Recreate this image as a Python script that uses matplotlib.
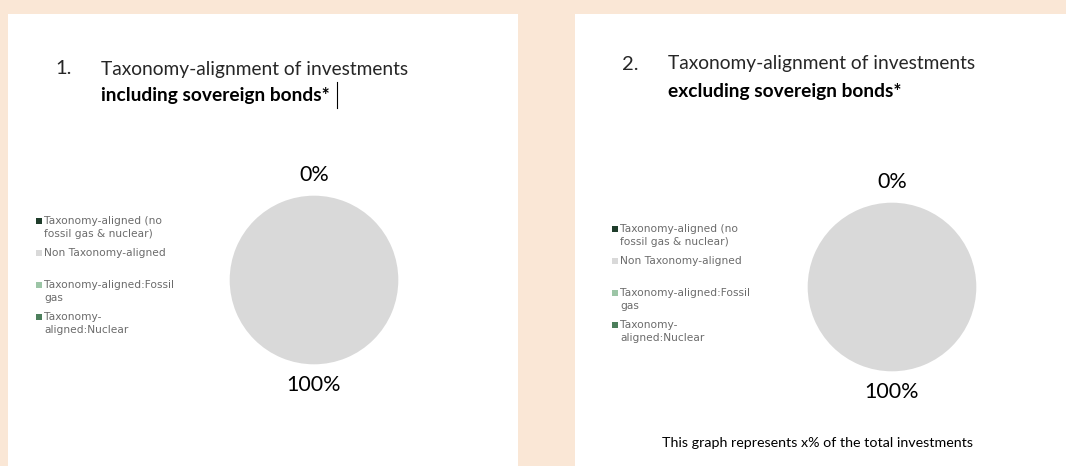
import matplotlib.pyplot as plt
import matplotlib.patches as mpatches
from matplotlib.lines import Line2D
import numpy as np

# Data
categories = ['Taxonomy-aligned (no\nfossil gas & nuclear)', 'Non Taxonomy-aligned',
              'Taxonomy-aligned:Fossil\ngas', 'Taxonomy-\naligned:Nuclear']
incl_values = [0, 100, 0, 0]
excl_values = [0, 100, 0, 0]
colors = ['#1f3d2b', '#d9d9d9', '#9cc5a6', '#4d7f5c']

titles_num = ['1.', '2.']
titles_l1 = ['Taxonomy-alignment of investments', 'Taxonomy-alignment of investments']
titles_l2 = ['including sovereign bonds*', 'excluding sovereign bonds*']
footnote = 'This graph represents x% of the total investments'

W, H = 1066, 466
fig = plt.figure(figsize=(W / 100, H / 100), dpi=100)
fig.patch.set_facecolor('#fae7d6')

def fx(x):
    return x / W

def fy(y):
    return 1 - y / H

# white panels
fig.add_artist(mpatches.Rectangle((fx(8), 0), fx(510), fy(14), transform=fig.transFigure,
                                  facecolor='white', edgecolor='none', zorder=0))
fig.add_artist(mpatches.Rectangle((fx(575), 0), fx(491), fy(14), transform=fig.transFigure,
                                  facecolor='white', edgecolor='none', zorder=0))

title_font = ['Lato', 'DejaVu Sans']
legend_font = ['DejaVu Sans']

panels = [
    dict(values=incl_values, cx=314, cy=280, r=86, num_x=55, tx=101, ty1=69, ty2=96,
         leg_x=39, leg_y=221),
    dict(values=excl_values, cx=892, cy=287, r=86, num_x=622, tx=668, ty1=64, ty2=91,
         leg_x=615, leg_y=229),
]

for i, p in enumerate(panels):
    # titles
    fig.text(fx(p['num_x']), fy(p['ty1']), titles_num[i], fontsize=14.5, family=title_font,
             color='#262626', va='center', ha='left')
    fig.text(fx(p['tx']), fy(p['ty1']), titles_l1[i], fontsize=13.8, family=title_font,
             color='#262626', va='center', ha='left')
    fig.text(fx(p['tx']), fy(p['ty2']), titles_l2[i], fontsize=13.8, family=title_font,
             color='black', fontweight='bold', va='center', ha='left')

    # pie
    r = p['r']
    ax = fig.add_axes([fx(p['cx'] - r), fy(p['cy'] + r), fx(2 * r), (2 * r) / H])
    wedges, _ = ax.pie(p['values'], colors=colors, startangle=90, counterclock=False,
                       radius=1, wedgeprops=dict(linewidth=0))
    ax.set_xlim(-1.02, 1.02)
    ax.set_ylim(-1.02, 1.02)
    ax.set_aspect('equal')
    ax.axis('off')

    total = sum(p['values'])
    seen = set()
    for w, v in zip(wedges, p['values']):
        ang = np.deg2rad((w.theta1 + w.theta2) / 2)
        lx, ly = 1.25 * np.cos(ang), 1.25 * np.sin(ang)
        key = (round(lx, 2), round(ly, 2))
        if key in seen:
            continue
        seen.add(key)
        ax.text(lx, ly, f'{v / total * 100:.0f}%', ha='center', va='center', fontsize=15.5,
                family=title_font, color='black', clip_on=False)

    # legend
    for j, (lab, c) in enumerate(zip(categories, colors)):
        y = p['leg_y'] + j * 32
        fig.add_artist(mpatches.Rectangle((fx(p['leg_x'] - 3), fy(y + 3)), fx(6), 6 / H,
                                          transform=fig.transFigure, facecolor=c,
                                          edgecolor='none'))
        fig.text(fx(p['leg_x'] + 5), fy(y - 4.5), lab, fontsize=7.7, family=legend_font,
                 color='#6b6b6b', va='top', ha='left', linespacing=1.3)

# text cursor after the first title
fig.add_artist(Line2D([fx(337), fx(337)], [fy(82), fy(108)], transform=fig.transFigure,
                      color='black', linewidth=0.8))

fig.text(fx(818), fy(443), footnote, fontsize=10.3, family=title_font, color='black',
         ha='center', va='center')

fig.savefig('out.png', dpi=100, facecolor=fig.get_facecolor())
